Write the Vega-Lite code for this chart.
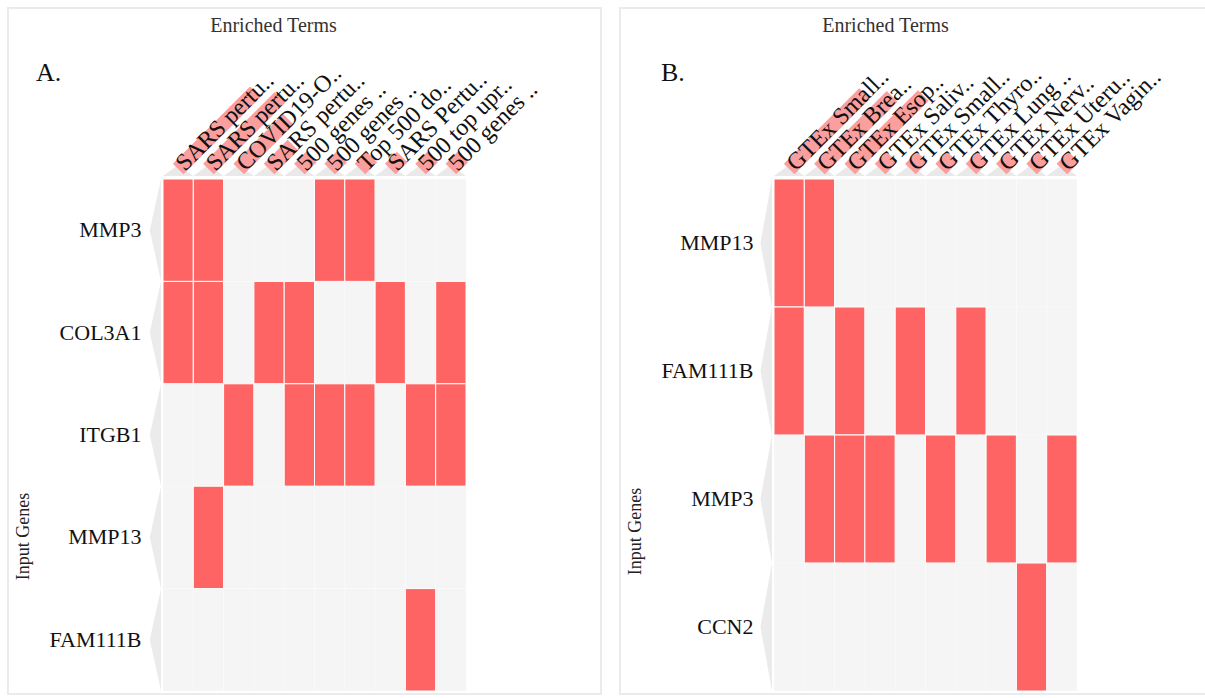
{
  "$schema": "https://vega.github.io/schema/vega-lite/v6.json",
  "background": "white",
  "padding": {"left": 7, "top": 7, "right": 0, "bottom": 0},
  "spacing": 17,
  "config": {
    "view": {"stroke": "#ebebeb", "strokeWidth": 2},
    "font": "Liberation Serif"
  },
  "datasets": {
    "cellsA": [
      {"g":"MMP3","c":1,"v":1},{"g":"MMP3","c":2,"v":1},{"g":"MMP3","c":3,"v":0},{"g":"MMP3","c":4,"v":0},{"g":"MMP3","c":5,"v":0},{"g":"MMP3","c":6,"v":1},{"g":"MMP3","c":7,"v":1},{"g":"MMP3","c":8,"v":0},{"g":"MMP3","c":9,"v":0},{"g":"MMP3","c":10,"v":0},
      {"g":"COL3A1","c":1,"v":1},{"g":"COL3A1","c":2,"v":1},{"g":"COL3A1","c":3,"v":0},{"g":"COL3A1","c":4,"v":1},{"g":"COL3A1","c":5,"v":1},{"g":"COL3A1","c":6,"v":0},{"g":"COL3A1","c":7,"v":0},{"g":"COL3A1","c":8,"v":1},{"g":"COL3A1","c":9,"v":0},{"g":"COL3A1","c":10,"v":1},
      {"g":"ITGB1","c":1,"v":0},{"g":"ITGB1","c":2,"v":0},{"g":"ITGB1","c":3,"v":1},{"g":"ITGB1","c":4,"v":0},{"g":"ITGB1","c":5,"v":1},{"g":"ITGB1","c":6,"v":1},{"g":"ITGB1","c":7,"v":1},{"g":"ITGB1","c":8,"v":0},{"g":"ITGB1","c":9,"v":1},{"g":"ITGB1","c":10,"v":1},
      {"g":"MMP13","c":1,"v":0},{"g":"MMP13","c":2,"v":1},{"g":"MMP13","c":3,"v":0},{"g":"MMP13","c":4,"v":0},{"g":"MMP13","c":5,"v":0},{"g":"MMP13","c":6,"v":0},{"g":"MMP13","c":7,"v":0},{"g":"MMP13","c":8,"v":0},{"g":"MMP13","c":9,"v":0},{"g":"MMP13","c":10,"v":0},
      {"g":"FAM111B","c":1,"v":0},{"g":"FAM111B","c":2,"v":0},{"g":"FAM111B","c":3,"v":0},{"g":"FAM111B","c":4,"v":0},{"g":"FAM111B","c":5,"v":0},{"g":"FAM111B","c":6,"v":0},{"g":"FAM111B","c":7,"v":0},{"g":"FAM111B","c":8,"v":0},{"g":"FAM111B","c":9,"v":1},{"g":"FAM111B","c":10,"v":0}
    ],
    "termsA": [
      {"c":1,"label":"SARS pertu..","s":0.84},
      {"c":2,"label":"SARS pertu..","s":0.78},
      {"c":3,"label":"COVID19-O..","s":0.54},
      {"c":4,"label":"SARS pertu..","s":0.26},
      {"c":5,"label":"500 genes ..","s":0.13},
      {"c":6,"label":"500 genes ..","s":0.13},
      {"c":7,"label":"Top 500 do..","s":0.13},
      {"c":8,"label":"SARS Pertu..","s":0.13},
      {"c":9,"label":"500 top upr..","s":0.13},
      {"c":10,"label":"500 genes ..","s":0.13}
    ],
    "genesA": [{"g":"MMP3"},{"g":"COL3A1"},{"g":"ITGB1"},{"g":"MMP13"},{"g":"FAM111B"}],
    "cellsB": [
      {"g":"MMP13","c":1,"v":1},{"g":"MMP13","c":2,"v":1},{"g":"MMP13","c":3,"v":0},{"g":"MMP13","c":4,"v":0},{"g":"MMP13","c":5,"v":0},{"g":"MMP13","c":6,"v":0},{"g":"MMP13","c":7,"v":0},{"g":"MMP13","c":8,"v":0},{"g":"MMP13","c":9,"v":0},{"g":"MMP13","c":10,"v":0},
      {"g":"FAM111B","c":1,"v":1},{"g":"FAM111B","c":2,"v":0},{"g":"FAM111B","c":3,"v":1},{"g":"FAM111B","c":4,"v":0},{"g":"FAM111B","c":5,"v":1},{"g":"FAM111B","c":6,"v":0},{"g":"FAM111B","c":7,"v":1},{"g":"FAM111B","c":8,"v":0},{"g":"FAM111B","c":9,"v":0},{"g":"FAM111B","c":10,"v":0},
      {"g":"MMP3","c":1,"v":0},{"g":"MMP3","c":2,"v":1},{"g":"MMP3","c":3,"v":1},{"g":"MMP3","c":4,"v":1},{"g":"MMP3","c":5,"v":0},{"g":"MMP3","c":6,"v":1},{"g":"MMP3","c":7,"v":0},{"g":"MMP3","c":8,"v":1},{"g":"MMP3","c":9,"v":0},{"g":"MMP3","c":10,"v":1},
      {"g":"CCN2","c":1,"v":0},{"g":"CCN2","c":2,"v":0},{"g":"CCN2","c":3,"v":0},{"g":"CCN2","c":4,"v":0},{"g":"CCN2","c":5,"v":0},{"g":"CCN2","c":6,"v":0},{"g":"CCN2","c":7,"v":0},{"g":"CCN2","c":8,"v":0},{"g":"CCN2","c":9,"v":1},{"g":"CCN2","c":10,"v":0}
    ],
    "termsB": [
      {"c":1,"label":"GTEx Small..","s":0.82},
      {"c":2,"label":"GTEx Brea..","s":0.79},
      {"c":3,"label":"GTEx Esop..","s":0.8},
      {"c":4,"label":"GTEx Saliv..","s":0.13},
      {"c":5,"label":"GTEx Small..","s":0.13},
      {"c":6,"label":"GTEx Thyro..","s":0.13},
      {"c":7,"label":"GTEx Lung ..","s":0.13},
      {"c":8,"label":"GTEx Nerv..","s":0.13},
      {"c":9,"label":"GTEx Uteru..","s":0.13},
      {"c":10,"label":"GTEx Vagin..","s":0.13}
    ],
    "genesB": [{"g":"MMP13"},{"g":"FAM111B"},{"g":"MMP3"},{"g":"CCN2"}]
  },
  "hconcat": [
    {
      "width": 593,
      "height": 686,
      "title": {"text": "A.", "anchor": "start", "frame": "group", "orient": "top", "offset": -99, "dx": 28, "baseline": "alphabetic", "fontSize": 26, "fontWeight": "normal", "font": "Liberation Serif", "color": "#111"},
      "layer": [
        {
          "data": {"name": "cellsA"},
          "mark": {"type": "rect", "stroke": "white"},
          "encoding": {
            "x": {"field": "c", "type": "ordinal", "scale": {"type": "band", "domain": [1,2,3,4,5,6,7,8,9,10], "range": [155, 458], "paddingInner": 0, "paddingOuter": 0},
                  "axis": {"orient": "top", "offset": -171, "labels": false, "ticks": false, "domain": false, "title": "Enriched Terms", "titleFont": "Liberation Serif", "titleFontSize": 20, "titleFontWeight": "normal", "titleColor": "#333", "titleX": 265, "titleY": -154, "titleBaseline": "middle", "titleAlign": "center"}},
            "y": {"field": "g", "type": "nominal", "scale": {"domain": ["MMP3","COL3A1","ITGB1","MMP13","FAM111B"], "range": [171, 683], "paddingInner": 0, "paddingOuter": 0},
                  "axis": {"orient": "left", "offset": -155, "ticks": false, "domain": false, "labelFont": "Liberation Serif", "labelFontSize": 22, "labelColor": "#111", "labelPadding": 22, "title": "Input Genes", "titleFont": "Liberation Serif", "titleFontSize": 18, "titleFontWeight": "normal", "titleColor": "#222", "titleX": -140, "titleY": 528, "titleAngle": -90, "titleBaseline": "middle", "titleAlign": "center"}},
            "color": {"field": "v", "type": "nominal", "scale": {"domain": [0, 1], "range": ["#f5f5f5", "#ff6464"]}, "legend": null},
            "strokeWidth": {"field": "v", "type": "quantitative", "scale": {"domain": [0, 1], "range": [0.3, 1]}, "legend": null}
          }
        },
        {
          "data": {"name": "genesA"},
          "mark": {"type": "point", "shape": "M0,-1L0,1L-0.22,0Z", "size": 10404, "filled": true, "color": "#ebebeb", "opacity": 1, "xOffset": -2},
          "encoding": {
            "x": {"datum": 1, "type": "ordinal", "bandPosition": 0},
            "y": {"field": "g", "type": "nominal"}
          }
        },
        {
          "data": {"name": "termsA"},
          "mark": {"type": "point", "shape": "M-1,0L1,0L0,-0.75Z", "size": 918, "filled": true, "color": "#e9e9e9", "opacity": 1, "yOffset": -3},
          "encoding": {
            "x": {"field": "c", "type": "ordinal"},
            "y": {"datum": "MMP3", "type": "nominal", "bandPosition": 0}
          }
        },
        {
          "data": {"name": "termsA"},
          "mark": {"type": "point", "shape": "M0,0L2,0", "filled": false, "color": "#fa9e9e", "strokeWidth": 15, "strokeCap": "butt", "opacity": 1, "angle": 315, "xOffset": 0, "yOffset": -10},
          "encoding": {
            "x": {"field": "c", "type": "ordinal"},
            "y": {"datum": "MMP3", "type": "nominal", "bandPosition": 0},
            "size": {"field": "s", "type": "quantitative", "scale": {"type": "pow", "exponent": 2, "domain": [0, 1], "range": [0, 16900]}, "legend": null}
          }
        },
        {
          "data": {"name": "termsA"},
          "mark": {"type": "text", "angle": 315, "align": "left", "baseline": "middle", "font": "Liberation Serif", "fontSize": 24, "color": "#111", "xOffset": 2, "yOffset": -12},
          "encoding": {
            "x": {"field": "c", "type": "ordinal"},
            "y": {"datum": "MMP3", "type": "nominal", "bandPosition": 0},
            "text": {"field": "label"}
          }
        }
      ]
    },
    {
      "width": 588,
      "height": 686,
      "title": {"text": "B.", "anchor": "start", "frame": "group", "orient": "top", "offset": -99, "dx": 41, "baseline": "alphabetic", "fontSize": 26, "fontWeight": "normal", "font": "Liberation Serif", "color": "#111"},
      "layer": [
        {
          "data": {"name": "cellsB"},
          "mark": {"type": "rect", "stroke": "white"},
          "encoding": {
            "x": {"field": "c", "type": "ordinal", "scale": {"type": "band", "domain": [1,2,3,4,5,6,7,8,9,10], "range": [154, 457], "paddingInner": 0, "paddingOuter": 0},
                  "axis": {"orient": "top", "offset": -171, "labels": false, "ticks": false, "domain": false, "title": "Enriched Terms", "titleFont": "Liberation Serif", "titleFontSize": 20, "titleFontWeight": "normal", "titleColor": "#333", "titleX": 265, "titleY": -154, "titleBaseline": "middle", "titleAlign": "center"}},
            "y": {"field": "g", "type": "nominal", "scale": {"domain": ["MMP13","FAM111B","MMP3","CCN2"], "range": [171, 683], "paddingInner": 0, "paddingOuter": 0},
                  "axis": {"orient": "left", "offset": -154, "ticks": false, "domain": false, "labelFont": "Liberation Serif", "labelFontSize": 22, "labelColor": "#111", "labelPadding": 21, "title": "Input Genes", "titleFont": "Liberation Serif", "titleFontSize": 18, "titleFontWeight": "normal", "titleColor": "#222", "titleX": -139, "titleY": 523, "titleAngle": -90, "titleBaseline": "middle", "titleAlign": "center"}},
            "color": {"field": "v", "type": "nominal", "scale": {"domain": [0, 1], "range": ["#f5f5f5", "#ff6464"]}, "legend": null},
            "strokeWidth": {"field": "v", "type": "quantitative", "scale": {"domain": [0, 1], "range": [0.3, 1]}, "legend": null}
          }
        },
        {
          "data": {"name": "genesB"},
          "mark": {"type": "point", "shape": "M0,-1L0,1L-0.18,0Z", "size": 16384, "filled": true, "color": "#ebebeb", "opacity": 1, "xOffset": -2},
          "encoding": {
            "x": {"datum": 1, "type": "ordinal", "bandPosition": 0},
            "y": {"field": "g", "type": "nominal"}
          }
        },
        {
          "data": {"name": "termsB"},
          "mark": {"type": "point", "shape": "M-1,0L1,0L0,-0.75Z", "size": 918, "filled": true, "color": "#e9e9e9", "opacity": 1, "yOffset": -3},
          "encoding": {
            "x": {"field": "c", "type": "ordinal"},
            "y": {"datum": "MMP13", "type": "nominal", "bandPosition": 0}
          }
        },
        {
          "data": {"name": "termsB"},
          "mark": {"type": "point", "shape": "M0,0L2,0", "filled": false, "color": "#fa9e9e", "strokeWidth": 15, "strokeCap": "butt", "opacity": 1, "angle": 315, "xOffset": 0, "yOffset": -10},
          "encoding": {
            "x": {"field": "c", "type": "ordinal"},
            "y": {"datum": "MMP13", "type": "nominal", "bandPosition": 0},
            "size": {"field": "s", "type": "quantitative", "scale": {"type": "pow", "exponent": 2, "domain": [0, 1], "range": [0, 16900]}, "legend": null}
          }
        },
        {
          "data": {"name": "termsB"},
          "mark": {"type": "text", "angle": 315, "align": "left", "baseline": "middle", "font": "Liberation Serif", "fontSize": 24, "color": "#111", "xOffset": 2, "yOffset": -12},
          "encoding": {
            "x": {"field": "c", "type": "ordinal"},
            "y": {"datum": "MMP13", "type": "nominal", "bandPosition": 0},
            "text": {"field": "label"}
          }
        }
      ]
    }
  ]
}
